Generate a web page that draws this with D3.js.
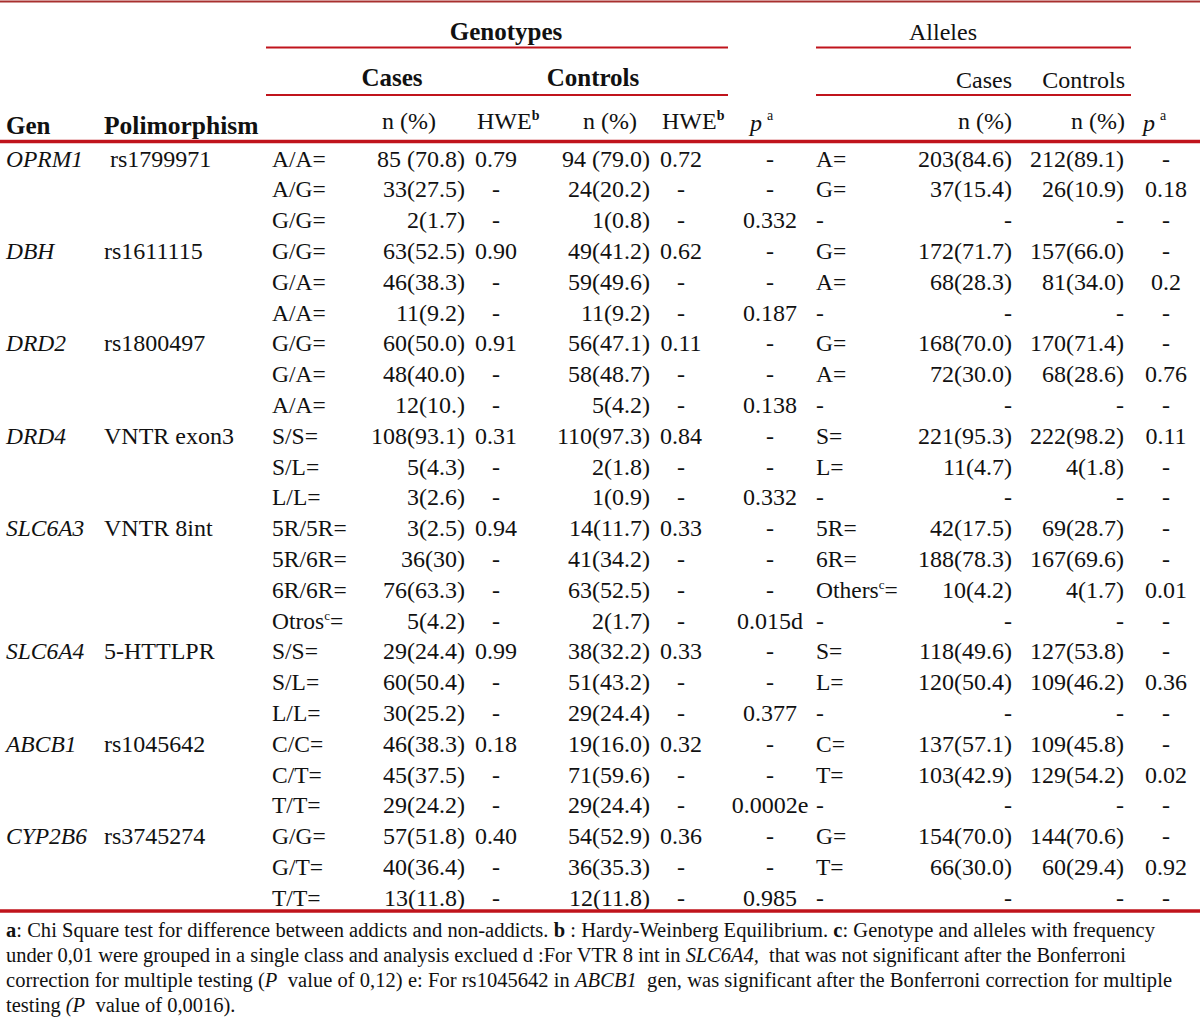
<!DOCTYPE html>
<html><head><meta charset="utf-8">
<script src="https://cdn.jsdelivr.net/npm/d3@7"></script>
<style>html,body{margin:0;padding:0;background:#fff}svg{display:block}</style>
</head><body><div id="chart"></div>
<script>
// ---------- DATA ----------
const genes = ["OPRM1","DBH","DRD2","DRD4","SLC6A3","SLC6A4","ABCB1","CYP2B6"];
const polymorphisms = [" rs1799971","rs1611115","rs1800497","VNTR exon3","VNTR 8int","5-HTTLPR","rs1045642","rs3745274"];
const genotypesPerGene = [3,3,3,3,4,3,3,3];
const genotypeLabels = ["A/A=","A/G=","G/G=","G/G=","G/A=","A/A=","G/G=","G/A=","A/A=","S/S=","S/L=","L/L=","5R/5R=","5R/6R=","6R/6R=","Otros^c=","S/S=","S/L=","L/L=","C/C=","C/T=","T/T=","G/G=","G/T=","T/T="];
const casesN = ["85 (70.8)","33(27.5)","2(1.7)","63(52.5)","46(38.3)","11(9.2)","60(50.0)","48(40.0)","12(10.)","108(93.1)","5(4.3)","3(2.6)","3(2.5)","36(30)","76(63.3)","5(4.2)","29(24.4)","60(50.4)","30(25.2)","46(38.3)","45(37.5)","29(24.2)","57(51.8)","40(36.4)","13(11.8)"];
const casesHWE = ["0.79","-","-","0.90","-","-","0.91","-","-","0.31","-","-","0.94","-","-","-","0.99","-","-","0.18","-","-","0.40","-","-"];
const controlsN = ["94 (79.0)","24(20.2)","1(0.8)","49(41.2)","59(49.6)","11(9.2)","56(47.1)","58(48.7)","5(4.2)","110(97.3)","2(1.8)","1(0.9)","14(11.7)","41(34.2)","63(52.5)","2(1.7)","38(32.2)","51(43.2)","29(24.4)","19(16.0)","71(59.6)","29(24.4)","54(52.9)","36(35.3)","12(11.8)"];
const controlsHWE = ["0.72","-","-","0.62","-","-","0.11","-","-","0.84","-","-","0.33","-","-","-","0.33","-","-","0.32","-","-","0.36","-","-"];
const genotypeP = ["-","-","0.332","-","-","0.187","-","-","0.138","-","-","0.332","-","-","-","0.015d","-","-","0.377","-","-","0.0002e","-","-","0.985"];
const alleleLabels = ["A=","G=","-","G=","A=","-","G=","A=","-","S=","L=","-","5R=","6R=","Others^c=","-","S=","L=","-","C=","T=","-","G=","T=","-"];
const alleleCases = ["203(84.6)","37(15.4)","-","172(71.7)","68(28.3)","-","168(70.0)","72(30.0)","-","221(95.3)","11(4.7)","-","42(17.5)","188(78.3)","10(4.2)","-","118(49.6)","120(50.4)","-","137(57.1)","103(42.9)","-","154(70.0)","66(30.0)","-"];
const alleleControls = ["212(89.1)","26(10.9)","-","157(66.0)","81(34.0)","-","170(71.4)","68(28.6)","-","222(98.2)","4(1.8)","-","69(28.7)","167(69.6)","4(1.7)","-","127(53.8)","109(46.2)","-","109(45.8)","129(54.2)","-","144(70.6)","60(29.4)","-"];
const alleleP = ["-","0.18","-","-","0.2","-","-","0.76","-","0.11","-","-","-","-","0.01","-","-","0.36","-","-","0.02","-","-","0.92","-"];
const footnoteLines = [
  [["a","b"],[": Chi Square test for difference between addicts and non-addicts. ",""],["b","b"],[" : Hardy-Weinberg Equilibrium. ",""],["c","b"],[": Genotype and alleles with frequency",""]],
  [["under 0,01 were grouped in a single class and analysis exclued d :For VTR 8 int in ",""],["SLC6A4,","i"],["  that was not significant after the Bonferroni",""]],
  [["correction for multiple testing (",""],["P","i"],["  value of 0,12) e: For rs1045642 in ",""],["ABCB1","i"],["  gen, was significant after the Bonferroni correction for multiple",""]],
  [["testing ",""],["(P","i"],["  value of 0,0016).",""]]
];

// ---------- LAYOUT ----------
const W = 1200, H = 1026;
const FONT = "'Liberation Serif', 'Times New Roman', serif";
const FS = 23.5, FSB = 25;
const RED = "#c0141c";

const svg = d3.select("#chart").append("svg")
  .attr("width", W).attr("height", H)
  .style("font-family", FONT);
svg.append("rect").attr("width", W).attr("height", H).attr("fill", "#fff");

const nRows = genotypeLabels.length;
const rowY = d3.scaleBand().domain(d3.range(nRows)).range([143.6, 143.6 + 30.8 * nRows]);
const baseY = i => rowY(i) + rowY.bandwidth() / 2 + 7.5;

// helper for text with ^superscript
function addText(g, str, x, y, opts = {}) {
  const t = g.append("text")
    .attr("x", x).attr("y", y)
    .attr("text-anchor", opts.anchor || "start")
    .style("font-size", (opts.size || FS) + "px")
    .style("white-space", "pre")
    .attr("fill", "#111");
  if (opts.weight) t.style("font-weight", opts.weight);
  if (opts.italic) t.style("font-style", "italic");
  const parts = str.split(/\^(.)/).filter(p => p !== "");
  if (parts.length === 1) { t.text(parts[0]); return t; }
  let back = 0;
  str.split(/\^(.)/).forEach((p, k) => {
    if (p === "") return;
    if (k % 2 === 1) {
      t.append("tspan").attr("dy", -9).style("font-size", "13px").text(p);
      back = 9;
    } else {
      const ts = t.append("tspan").text(p);
      if (back) { ts.attr("dy", back); back = 0; }
    }
  });
  return t;
}

const g = svg.append("g");

// lines
svg.append("line").attr("x1", 0).attr("x2", W).attr("y1", 1.5).attr("y2", 1.5).attr("stroke", "#a8302f").attr("stroke-width", 2);
[[266, 728, 47.5], [816, 1131, 47.5], [266, 728, 95], [816, 1131, 95]].forEach(([a, b, y]) =>
  svg.append("line").attr("x1", a).attr("x2", b).attr("y1", y).attr("y2", y).attr("stroke", RED).attr("stroke-width", 2));
svg.append("line").attr("x1", 0).attr("x2", W).attr("y1", 141.5).attr("y2", 141.5).attr("stroke", RED).attr("stroke-width", 3.5);
svg.append("line").attr("x1", 0).attr("x2", W).attr("y1", 911).attr("y2", 911).attr("stroke", RED).attr("stroke-width", 3.5);

// headers
addText(g, "Genotypes", 506, 40, {anchor: "middle", weight: "bold", size: FSB});
addText(g, "Alleles", 943, 40, {anchor: "middle", size: 24});
addText(g, "Cases", 392, 86, {anchor: "middle", weight: "bold", size: FSB});
addText(g, "Controls", 593, 86, {anchor: "middle", weight: "bold", size: FSB});
addText(g, "Cases", 1012, 88, {anchor: "end", size: 24});
addText(g, "Controls", 1125, 88, {anchor: "end", size: 24});
addText(g, "Gen", 6, 134, {weight: "bold", size: FSB});
addText(g, "Polimorphism", 104, 134, {weight: "bold", size: FSB + 0.5});
addText(g, "n (%)", 436, 129, {anchor: "end", size: 24});
addText(g, "n (%)", 637, 129, {anchor: "end", size: 24});
addText(g, "n (%)", 1012, 129, {anchor: "end", size: 24});
addText(g, "n (%)", 1125, 129, {anchor: "end", size: 24});
function hwe(x) {
  const t = g.append("text").attr("x", x).attr("y", 129).style("font-size", "24px").attr("fill", "#111");
  t.append("tspan").text("HWE");
  t.append("tspan").attr("dy", -9).style("font-size", "14px").style("font-weight", "bold").text("b");
}
hwe(477); hwe(662);
function pa(x) {
  const t = g.append("text").attr("x", x).attr("y", 131).style("font-size", "24px").attr("fill", "#111");
  t.append("tspan").style("font-style", "italic").text("p");
  t.append("tspan").attr("dx", 5).attr("dy", -11).style("font-size", "14px").text("a");
}
pa(750); pa(1143);

// gene / polymorphism
const starts = [0, ...d3.cumsum(genotypesPerGene)].slice(0, genes.length);
genes.forEach((gn, k) => {
  addText(g, gn, 6, baseY(starts[k]), {italic: true});
  addText(g, polymorphisms[k], 104, baseY(starts[k]), {size: 24});
});

// columns
const columns = [
  {data: genotypeLabels, x: 272, anchor: "start"},
  {data: casesN, x: 465, anchor: "end", size: 24},
  {data: casesHWE, x: 496, anchor: "middle", size: 24},
  {data: controlsN, x: 650, anchor: "end", size: 24},
  {data: controlsHWE, x: 681, anchor: "middle", size: 24},
  {data: genotypeP, x: 770, anchor: "middle", size: 24},
  {data: alleleLabels, x: 816, anchor: "start"},
  {data: alleleCases, x: 1012, anchor: "end", size: 24},
  {data: alleleControls, x: 1124, anchor: "end", size: 24},
  {data: alleleP, x: 1166, anchor: "middle", size: 24}
];
columns.forEach(c => c.data.forEach((v, i) => addText(g, v, c.x, baseY(i), {anchor: c.anchor, size: c.size})));

// footnotes
const fnY = [937, 962, 987, 1012];
const fnWidth = [1149, 1120, 1166, null];
footnoteLines.forEach((segs, k) => {
  const t = g.append("text").attr("x", 6).attr("y", fnY[k]).style("font-size", "20.5px").style("white-space", "pre").attr("fill", "#111");
  segs.forEach(([s, st]) => {
    const ts = t.append("tspan").text(s);
    if (st === "b") ts.style("font-weight", "bold");
    if (st === "i") ts.style("font-style", "italic");
  });
  if (fnWidth[k]) t.attr("textLength", fnWidth[k]).attr("lengthAdjust", "spacing");
});
</script>
</body></html>
